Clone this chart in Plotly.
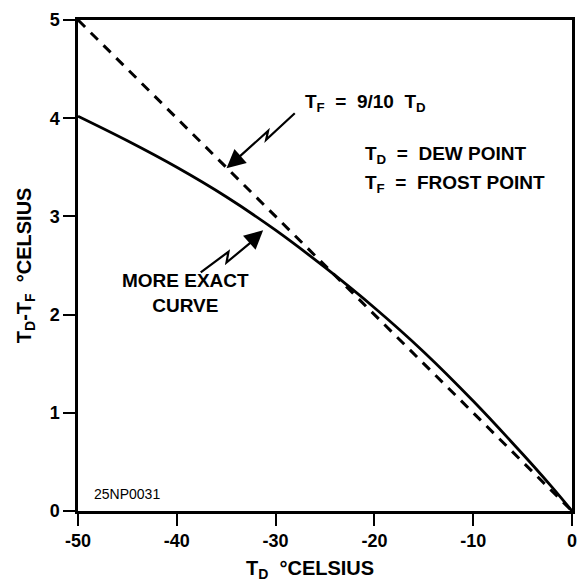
import plotly.graph_objects as go

# Data
td_curve = [-50, -45, -40, -35, -30, -25, -20, -15, -10, -5, -2, 0]
diff_curve = [4.02, 3.77, 3.50, 3.20, 2.86, 2.48, 2.07, 1.62, 1.12, 0.58, 0.24, 0.0]
td_line = [-50, 0]
diff_line = [5.0, 0.0]
x_ticks = [-50, -40, -30, -20, -10, 0]
x_tick_labels = ["-50", "-40", "-30", "-20", "-10", "0"]
y_ticks = [0, 1, 2, 3, 4, 5]
y_tick_labels = ["0", "1", "2", "3", "4", "5"]

FONT = "Liberation Sans, Arial, sans-serif"

fig = go.Figure()
fig.add_trace(go.Scatter(x=td_line, y=diff_line, mode="lines",
                         line=dict(color="black", width=3, dash="10px,8px"),
                         showlegend=False, hoverinfo="skip"))
fig.add_trace(go.Scatter(x=td_curve, y=diff_curve, mode="lines",
                         line=dict(color="black", width=2.8, shape="spline"),
                         showlegend=False, hoverinfo="skip"))

# lightning-bolt arrow shafts
bolt1 = [(-28.06, 4.05), (-30.96, 3.78), (-30.76, 3.87), (-34.3, 3.55)]
bolt2 = [(-37.58, 2.43), (-34.77, 2.64), (-34.97, 2.53), (-32.2, 2.76)]
for pts in (bolt1, bolt2):
    path = "M " + " L ".join(f"{x},{y}" for x, y in pts)
    fig.add_shape(type="path", path=path, xref="x", yref="y",
                  line=dict(color="black", width=2.2))

# arrowheads
fig.add_annotation(x=-34.97, y=3.49, ax=-33.6, ay=3.61, xref="x", yref="y",
                   axref="x", ayref="y", text="", showarrow=True,
                   arrowhead=2, arrowsize=1.7, arrowwidth=2.2, arrowcolor="black")
fig.add_annotation(x=-31.26, y=2.86, ax=-32.8, ay=2.72, xref="x", yref="y",
                   axref="x", ayref="y", text="", showarrow=True,
                   arrowhead=2, arrowsize=1.7, arrowwidth=2.2, arrowcolor="black")

txt = dict(color="black", size=19, family=FONT, weight="bold")
ttl = dict(color="black", size=20, family=FONT, weight="bold")
fig.add_annotation(x=-27.25, y=4.15, xref="x", yref="y", xanchor="left",
                   text="T<sub>F</sub>  =  9/10  T<sub>D</sub>", showarrow=False, font=txt)
fig.add_annotation(x=-21.14, y=3.63, xref="x", yref="y", xanchor="left",
                   text="T<sub>D</sub>  =  DEW POINT", showarrow=False, font=txt)
fig.add_annotation(x=-21.14, y=3.33, xref="x", yref="y", xanchor="left",
                   text="T<sub>F</sub>  =  FROST POINT", showarrow=False, font=txt)
fig.add_annotation(x=-39.08, y=2.22, xref="x", yref="y",
                   text="MORE EXACT<br>CURVE", showarrow=False, font=txt)
fig.add_annotation(x=-48.6, y=0.17, xref="x", yref="y", xanchor="left",
                   text="25NP0031", showarrow=False,
                   font=dict(color="black", size=14, family=FONT))

# axis titles
fig.add_annotation(x=-0.106, y=0.5, xref="paper", yref="paper", textangle=-90,
                   xanchor="center", yanchor="middle",
                   text="T<sub>D</sub>-T<sub>F</sub>  °CELSIUS", showarrow=False, font=ttl)
fig.add_annotation(x=0.469, y=-0.119, xref="paper", yref="paper",
                   xanchor="center", yanchor="middle",
                   text="T<sub>D</sub>  °CELSIUS", showarrow=False, font=ttl)

axis_common = dict(showgrid=False, zeroline=False, showline=True, linecolor="black",
                   linewidth=2.5, mirror=True, ticks="outside", ticklen=12,
                   tickwidth=2, tickcolor="black",
                   tickfont=dict(color="black", size=18, family=FONT, weight="bold"))
fig.update_xaxes(range=[-50, 0], tickvals=x_ticks, ticktext=x_tick_labels, **axis_common)
fig.update_yaxes(range=[0, 5], tickvals=y_ticks, ticktext=y_tick_labels, **axis_common)

fig.update_layout(width=587, height=583, margin=dict(l=78, r=10, t=16, b=72),
                  plot_bgcolor="white", paper_bgcolor="white", showlegend=False)
fig.write_html("out.html", config={"displayModeBar": False},
               post_script="document.body.style.margin='0';document.body.style.overflow='hidden';")
